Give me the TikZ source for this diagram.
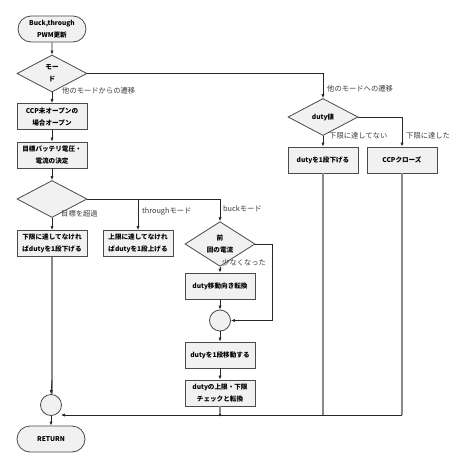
\documentclass[tikz,border=0pt]{standalone}
\usepackage{fontspec}
\setmainfont{Noto Sans CJK JP}
\usetikzlibrary{shapes.geometric,shapes.misc,arrows.meta}
\definecolor{boxfill}{HTML}{F1F1F1}
\definecolor{boxdraw}{HTML}{4A4A4A}
\definecolor{lblcol}{HTML}{3A3A3A}
\definecolor{retcol}{HTML}{8A8A8A}
\tikzset{
  base/.style={draw=boxdraw, fill=boxfill, line width=0.8pt, align=center,
    font=\bfseries\fontsize{6.6}{12}\selectfont, inner sep=1pt},
  box/.style={base, rectangle, minimum width=70pt, minimum height=26pt},
  term/.style={base, rounded rectangle, minimum width=70pt, minimum height=26pt},
  dia/.style={base, diamond, minimum width=70pt, minimum height=37pt, inner sep=0pt},
  junc/.style={base, circle, minimum size=21pt, inner sep=0pt},
  lbl/.style={font=\fontsize{7.3}{9}\selectfont, text=lblcol, inner sep=0pt, anchor=west},
  flow/.style={draw=black!85, line width=0.7pt, -{Latex[length=4pt,width=3.2pt]}},
  plain/.style={draw=black!85, line width=0.7pt},
  ret/.style={draw=retcol, line width=1.1pt},
}
\begin{document}
\begin{tikzpicture}[x=1pt,y=-1pt]
\useasboundingbox (0,0) rectangle (468,471);
% main column
\node[term] (start) at (52,29) {Buck,through\\PWM更新};
\node[dia]  (mode)  at (52,73.5) {モー\\ド};
\node[box]  (ccp)   at (52,116.5) {CCP未オープンの\\場合オープン};
\node[box]  (tgt)   at (52,155) {目標バッテリ電圧・\\電流の決定};
\node[dia]  (d3)    at (52,199) {};
\node[box]  (lo)    at (52,243.5) {下限に達してなけれ\\ばdutyを1段下げる};
\node[box]  (up)    at (138,243.5) {上限に達してなけれ\\ばdutyを1段上げる};
\node[junc] (c1)    at (51,405) {};
\node[term] (ret)   at (51,439) {RETURN};
% buck column
\node[dia]  (bd)    at (220,244) {前\\回の電流};
\node[box]  (turn)  at (220,286) {duty移動向き転換};
\node[junc] (c2)    at (220,320.5) {};
\node[box]  (mv)    at (220,355) {dutyを1段移動する};
\node[box]  (chk)   at (220,393) {dutyの上限・下限\\チェックと転換};
% right column
\node[dia]  (dd)    at (323,117) {duty値};
\node[box]  (dn)    at (323,160) {dutyを1段下げる};
\node[box]  (cl)    at (402,160) {CCPクローズ};
\coordinate (bdturn) at (272,244);
\coordinate (joinR) at (402,415);
\coordinate (joinC) at (220,415);
\coordinate (c1in)  at (61,415);

% connectors
\draw[flow] (start) -- (mode);
\draw[flow] (mode) -- (ccp);
\draw[flow] (ccp) -- (tgt);
\draw[flow] (tgt) -- (d3);
\draw[flow] (d3) -- (lo);
\draw[flow] (mode.east) -| (dd.north);
\draw[flow] (dd) -- (dn);
\draw[flow] (dd.east) -| (cl.north);
\draw[flow] (d3.east) -| (up.north);
\draw[flow] (d3.east) -| (bd.north);
\draw[flow] (bd) -- (turn);
\draw[flow] (bd.east) -- (bdturn) |- (c2.east);
\draw[flow] (turn) -- (c2);
\draw[flow] (c2) -- (mv);
\draw[flow] (mv) -- (chk);
\draw[flow] (c1) -- (ret);
% return lines
\draw[ret] (dn.south) -- (dn.south |- joinR);
\draw[ret] (cl.south) -- (joinR);
\draw[ret] (chk.south) -- (joinC);
\draw[ret] (lo.south) -- (lo.south |- c1.north);
\draw[flow] (lo.south |- 0,380) -- (c1.north);
\draw[flow] (joinR) -- (c1in);
\fill[black!85] (joinC) circle (1.3pt);

% labels
\node[lbl] at (62,91) {他のモードからの遷移};
\node[lbl] at (327,89) {他のモードへの遷移};
\node[lbl] at (61,213.5) {目標を超過};
\node[lbl] at (142,212) {throughモード};
\node[lbl] at (223,209) {buckモード};
\node[lbl] at (222,263) {少なくなった};
\node[lbl] at (329,136) {下限に達してない};
\node[lbl] at (406,136) {下限に達した};
\end{tikzpicture}
\end{document}
